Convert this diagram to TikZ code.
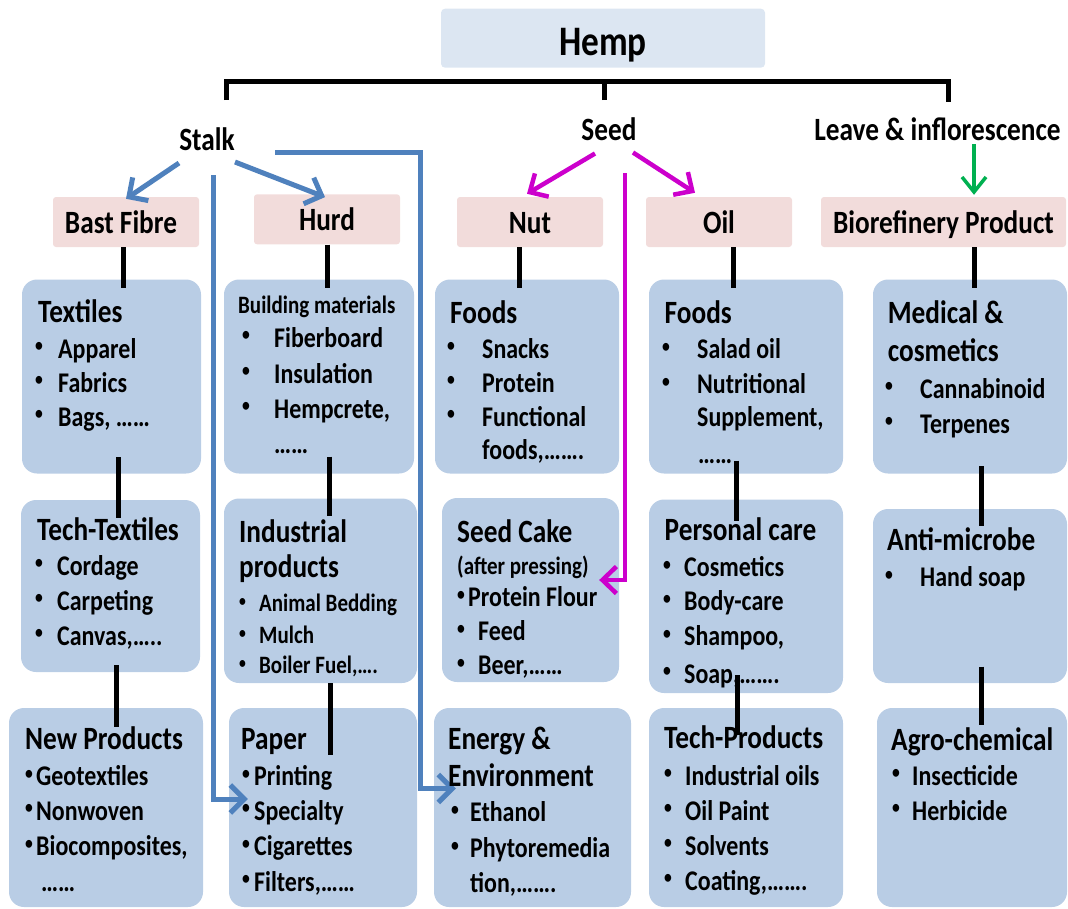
\documentclass[tikz,border=0pt]{standalone}
\usepackage{fontspec}
\setmainfont{Carlito}[FakeStretch=0.84]
\usetikzlibrary{arrows.meta,calc}
\definecolor{boxblue}{HTML}{B9CDE5}
\definecolor{boxpink}{HTML}{F2DCDB}
\definecolor{hempbg}{HTML}{DCE6F2}
\definecolor{arrblue}{HTML}{4F81BD}
\definecolor{arrmag}{HTML}{CC00CC}
\definecolor{arrgreen}{HTML}{00B050}
\newcommand\smbul{\raisebox{0.22em}{\scalebox{0.65}{•}}}
\newcommand\bu[1]{\makebox[#1pt][l]{\hspace{2pt}\smbul}}
\begin{document}
\begin{tikzpicture}[x=1pt,y=-1pt,
  bbox/.style={fill=boxblue, rounded corners=15pt, inner sep=0pt},
  pbox/.style={fill=boxpink, rounded corners=3pt, inner sep=0pt, minimum height=50pt,
    font=\fontsize{32.5}{32.5}\selectfont\bfseries, text height=22pt, text depth=0pt},
  hempbox/.style={fill=hempbg, rounded corners=4pt, inner sep=0pt, minimum width=324pt, minimum height=59pt,
    font=\fontsize{42}{42}\selectfont\bfseries, text height=34pt, text depth=0pt},
  lbl/.style={font=\fontsize{32.5}{32.5}\selectfont\bfseries, anchor=base, inner sep=0pt},
  hd/.style={font=\fontsize{32.5}{32.5}\selectfont\bfseries, anchor=base west, inner sep=0pt},
  it/.style={font=\fontsize{28.5}{28.5}\selectfont\bfseries, anchor=base west, inner sep=0pt},
  sm/.style={font=\fontsize{25}{25}\selectfont\bfseries, anchor=base west, inner sep=0pt},
  blk/.style={draw=black, line width=5pt},
  barr/.style={draw=arrblue, line width=5pt, -{Straight Barb[length=14pt,width=28pt]}},
  marr/.style={draw=arrmag, line width=4.5pt, -{Straight Barb[length=14pt,width=27pt]}},
  garr/.style={draw=arrgreen, line width=3.5pt, -{Straight Barb[length=15pt,width=24pt]}},
]
\useasboundingbox (0,0) rectangle (1068,908);

% top
\node[hempbox] (hemp) at (603,38.2) {Hemp};
\node[lbl] (stalk) at (207,150) {Stalk};
\node[lbl] (seed) at (609,140) {Seed};
\node[lbl] (leave) at (937.5,140) {Leave \& inflorescence};

% pink boxes
\node[pbox, minimum width=146pt] (bast) at (126,222) {Bast Fibre\hspace*{10pt}};
\node[pbox, minimum width=146pt] (hurd) at (327,219.3) {Hurd};
\node[pbox, minimum width=146pt] (nut) at (530,222) {Nut};
\node[pbox, minimum width=146pt] (oil) at (719,222) {Oil};
\node[pbox, minimum width=245pt] (bio) at (943.5,222) {Biorefinery Product};

% blue boxes row 1
\node[bbox, minimum width=179pt, minimum height=194pt] (textiles) at (111.5,376.5) {};
\node[bbox, minimum width=190pt, minimum height=194pt] (building) at (319,376.5) {};
\node[bbox, minimum width=184pt, minimum height=194pt] (foodsa) at (527,376.5) {};
\node[bbox, minimum width=194pt, minimum height=194pt] (foodsb) at (746,376.5) {};
\node[bbox, minimum width=194pt, minimum height=194pt] (medical) at (970,376.5) {};
% row 2
\node[bbox, minimum width=179pt, minimum height=172pt] (techtex) at (110.5,586) {};
\node[bbox, minimum width=193pt, minimum height=184.5pt] (industrial) at (320.5,590.75) {};
\node[bbox, minimum width=177pt, minimum height=184pt] (seedcake) at (530.5,590) {};
\node[bbox, minimum width=194pt, minimum height=193.5pt] (personal) at (746,596.25) {};
\node[bbox, minimum width=194pt, minimum height=174pt] (antimic) at (970,596) {};
% row 3
\node[bbox, minimum width=194pt, minimum height=199pt] (newprod) at (106,807.5) {};
\node[bbox, minimum width=188pt, minimum height=199pt] (paper) at (323,807.5) {};
\node[bbox, minimum width=197pt, minimum height=199pt] (energy) at (532.5,807.5) {};
\node[bbox, minimum width=194pt, minimum height=199pt] (techprod) at (746,807.5) {};
\node[bbox, minimum width=190pt, minimum height=199pt] (agro) at (972,807.5) {};

% bracket
\coordinate (brl) at (226,100);
\coordinate (brtl) at (226,81);
\coordinate (brtr) at (948,81);
\coordinate (brr) at (948,102);
\coordinate (brm) at (604,100);
\draw[blk] (brl) -- (brtl) -- (brtr) -- (brr);
\draw[blk] (brm) -- (brm |- brtl);

% black connectors
\draw[blk] ($(bast.south)+(-3,0)$) -- ($(textiles.north)+(11.5,8.5)$);
\draw[blk] (hurd.south) -- ($(building.north)+(8,8.5)$);
\draw[blk] ($(nut.south)+(-11,0)$) -- ($(foodsa.north)+(-8,8.5)$);
\draw[blk] ($(oil.south)+(14,0)$) -- ($(foodsb.north)+(-13,8.5)$);
\draw[blk] ($(bio.south)+(30.5,0)$) -- ($(medical.north)+(4,8.5)$);
\draw[blk] ($(textiles.south)+(6.5,-16.5)$) -- ($(techtex.north)+(7.5,18)$);
\draw[blk] ($(building.south)+(10,-17)$) -- ($(industrial.north)+(8.5,18)$);
\draw[blk] ($(foodsb.south)+(-10,-13)$) -- ($(personal.north)+(-10,22)$);
\draw[blk] ($(medical.south)+(11,-7.5)$) -- ($(antimic.north)+(11,17.5)$);
\draw[blk] ($(techtex.south)+(5.5,-7)$) -- ($(newprod.north)+(10,19)$);
\draw[blk] ($(industrial.south)+(9.5,0)$) -- ($(paper.north)+(7,47)$);
\draw[blk] ($(personal.south)+(-9,-18)$) -- ($(techprod.north)+(-9,27)$);
\draw[blk] ($(antimic.south)+(11,-16.5)$) -- ($(agro.north)+(9,17)$);

% blue arrows
\draw[barr] ($(stalk.base)+(-28,13)$) -- ($(bast.north)+(0,2)$);
\draw[barr] ($(stalk.base)+(28,12)$) -- ($(hurd.north)+(-2,3)$);
\draw[barr] ($(stalk.base)+(6,25)$) |- ($(paper.west)+(19,-8.5)$);
\draw[barr] ($(stalk.base)+(68,2)$) -| ($(energy.west)+(-13,-19)$) -- ($(energy.west)+(22,-19)$);

% magenta arrows
\draw[marr] ($(seed.base)+(-14,13.5)$) -- ($(nut.north)+(-3,-3)$);
\draw[marr] ($(seed.base)+(24,12.5)$) -- ($(oil.north)+(-24,-4)$);
\draw[marr] ($(seed.base)+(16,33)$) |- ($(seedcake.east)+(-20,-10)$);

% green arrow
\draw[garr] ($(leave.base)+(36.5,4)$) -- ($(bio.north)+(30.5,-2)$);

% texts column 1
\node[hd] (t1h) at (38,322) {Textiles};
\node[it] (t1a) at (33,358) {\bu{25}Apparel};
\node[it] (t1b) at (33,392) {\bu{25}Fabrics};
\node[it] (t1c) at (33,426) {\bu{25}Bags, ……};
\node[hd] (t2h) at (37,540) {Tech-Textiles};
\node[it] (t2a) at (33,575) {\bu{24}Cordage};
\node[it] (t2b) at (33,610) {\bu{24}Carpeting};
\node[it] (t2c) at (33,645) {\bu{24}Canvas,…..};
\node[hd] (t3h) at (25,749) {New Products};
\node[it] (t3a) at (23,785.5) {\bu{13}Geotextiles};
\node[it] (t3b) at (23,820) {\bu{13}Nonwoven};
\node[it] (t3c) at (23,855.5) {\bu{13}Biocomposites,};
\node[it] (t3d) at (41,891) {……};

% column 2
\node[sm] (u1h) at (238,313) {Building materials};
\node[it] (u1a) at (240,347) {\bu{34}Fiberboard};
\node[it] (u1b) at (240,383) {\bu{34}Insulation};
\node[it] (u1c) at (240,418) {\bu{34}Hempcrete,};
\node[it] (u1d) at (274,453.5) {……};
\node[hd] (u2h) at (239,542) {Industrial};
\node[hd] (u2i) at (239,577.5) {products};
\node[sm] (u2a) at (237,611.5) {\bu{22}Animal Bedding};
\node[sm] (u2b) at (237,643.5) {\bu{22}Mulch};
\node[sm] (u2c) at (237,673.5) {\bu{22}Boiler Fuel,….};
\node[hd] (u3h) at (241,749) {Paper};
\node[it] (u3a) at (240,785.5) {\bu{14}Printing};
\node[it] (u3b) at (240,820) {\bu{14}Specialty};
\node[it] (u3c) at (240,855.5) {\bu{14}Cigarettes};
\node[it] (u3d) at (240,891) {\bu{14}Filters,……};

% column 3
\node[hd] (v1h) at (450,323) {Foods};
\node[it] (v1a) at (445,358) {\bu{37}Snacks};
\node[it] (v1b) at (445,392) {\bu{37}Protein};
\node[it] (v1c) at (445,426) {\bu{37}Functional};
\node[it] (v1d) at (482,459.5) {foods,…….};
\node[hd] (v2h) at (457,542) {Seed Cake};
\node[sm] (v2i) at (457,574.7) {(after pressing)};
\node[it] (v2a) at (455,606.5) {\bu{13}Protein Flour};
\node[it] (v2b) at (455,640.5) {\bu{23}Feed};
\node[it] (v2c) at (455,674.5) {\bu{23}Beer,……};
\node[hd] (v3h) at (448,749) {Energy \&};
\node[hd] (v3i) at (448,786.5) {Environment};
\node[it] (v3a) at (449,821.5) {\bu{21}Ethanol};
\node[it] (v3b) at (449,857.5) {\bu{21}Phytoremedia};
\node[it] (v3c) at (470,892.5) {tion,…….};

% column 4
\node[hd] (w1h) at (664.5,323.4) {Foods};
\node[it] (w1a) at (660,358.4) {\bu{37}Salad oil};
\node[it] (w1b) at (660,393.4) {\bu{37}Nutritional};
\node[it] (w1c) at (697,426.4) {Supplement,};
\node[it] (w1d) at (698,463.3) {……};
\node[hd] (w2h) at (664.5,540.2) {Personal care};
\node[it] (w2a) at (661,576.6) {\bu{23}Cosmetics};
\node[it] (w2b) at (661,610.5) {\bu{23}Body-care};
\node[it] (w2c) at (661,645.5) {\bu{23}Shampoo,};
\node[it] (w2d) at (661,683) {\bu{23}Soap,…….};
\node[hd] (w3h) at (664,748) {Tech-Products};
\node[it] (w3a) at (662,785) {\bu{23}Industrial oils};
\node[it] (w3b) at (662,820) {\bu{23}Oil Paint};
\node[it] (w3c) at (662,855) {\bu{23}Solvents};
\node[it] (w3d) at (662,890) {\bu{23}Coating,…….};

% column 5
\node[hd] (x1h) at (887.6,323.4) {Medical \&};
\node[hd] (x1i) at (887.6,361.3) {cosmetics};
\node[it] (x1a) at (883,398.2) {\bu{37}Cannabinoid};
\node[it] (x1b) at (883,433.2) {\bu{37}Terpenes};
\node[hd] (x2h) at (887,550) {Anti-microbe};
\node[it] (x2a) at (883,586.8) {\bu{37}Hand soap};
\node[hd] (x3h) at (891,750) {Agro-chemical};
\node[it] (x3a) at (890,785.2) {\bu{22}Insecticide};
\node[it] (x3b) at (890,820) {\bu{22}Herbicide};
\end{tikzpicture}
\end{document}
